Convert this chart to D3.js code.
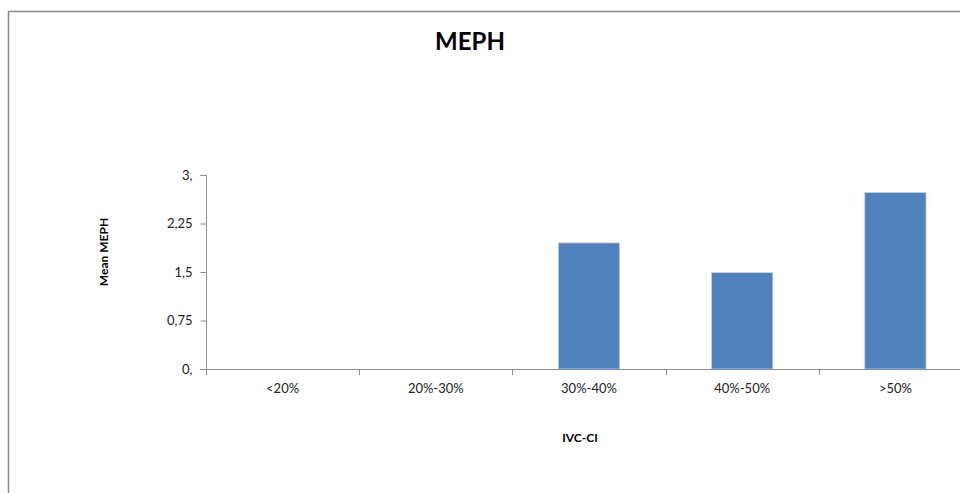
<!DOCTYPE html>
<html>
<head>
<meta charset="utf-8">
<script src="https://cdn.jsdelivr.net/npm/d3@7/dist/d3.min.js"></script>
<style>
  html, body { margin: 0; padding: 0; background: #fff; }
  svg { display: block; }
</style>
</head>
<body>
<svg id="chart" width="960" height="493"></svg>
<script>
// Mean MEPH per IVC-CI group
const categories = ["<20%", "20%-30%", "30%-40%", "40%-50%", ">50%"];
const meanMeph = [0, 0, 1.95, 1.49, 2.73];
const yTicks = [0, 0.75, 1.5, 2.25, 3];
const yTickLabels = ["0,", "0,75", "1,5", "2,25", "3,"];

const svg = d3.select("#chart");
const font = "Lato, 'Open Sans', sans-serif";

// outer chart frame (top and left edges visible)
svg.append("path")
  .attr("d", "M8.5,493 V11.5 H960")
  .attr("fill", "none")
  .attr("stroke", "#8c8c8c")
  .attr("stroke-width", 1.5);

const plot = { left: 206, right: 972, top: 175, bottom: 369 };

const x = d3.scaleBand()
  .domain(categories)
  .range([plot.left, plot.right])
  .paddingInner(0.6)
  .paddingOuter(0.3);

const y = d3.scaleLinear()
  .domain([0, 3])
  .range([plot.bottom, plot.top]);

// bars
svg.append("g")
  .selectAll("rect")
  .data(categories.map((c, i) => ({ c, v: meanMeph[i] })).filter(d => d.v > 0))
  .join("rect")
  .attr("x", d => x(d.c))
  .attr("y", d => y(d.v))
  .attr("width", x.bandwidth())
  .attr("height", d => y(0) - y(d.v))
  .attr("fill", "#4f81bd")
  .attr("stroke", "#c3d3ea")
  .attr("stroke-width", 0.8);

// y axis
const yAxis = d3.axisLeft(y)
  .tickValues(yTicks)
  .tickFormat((d, i) => yTickLabels[i])
  .tickSize(6)
  .tickPadding(8);

const gy = svg.append("g")
  .attr("transform", `translate(${plot.left + 0.5},0)`)
  .call(yAxis);
gy.select(".domain").attr("stroke", "#8c8c8c").attr("d", `M-6,${plot.top}.5H0V${plot.bottom}.5`);
gy.selectAll(".tick line").attr("stroke", "#8c8c8c");
gy.selectAll(".tick text")
  .attr("font-family", font)
  .attr("font-size", 13)
  .attr("fill", "#222");

// x axis: ticks on category boundaries
const boundaries = categories.map((c, i) => plot.left + i * x.step()).concat([plot.left + categories.length * x.step()]);
const gx = svg.append("g");
gx.append("line")
  .attr("x1", plot.left - 6).attr("x2", plot.right)
  .attr("y1", plot.bottom + 0.5).attr("y2", plot.bottom + 0.5)
  .attr("stroke", "#8c8c8c");
gx.selectAll("line.tk")
  .data(boundaries)
  .join("line")
  .attr("class", "tk")
  .attr("x1", d => Math.round(d) + 0.5).attr("x2", d => Math.round(d) + 0.5)
  .attr("y1", plot.bottom).attr("y2", plot.bottom + 6)
  .attr("stroke", "#8c8c8c");
gx.selectAll("text")
  .data(categories)
  .join("text")
  .attr("x", d => x(d) + x.bandwidth() / 2)
  .attr("y", plot.bottom + 24)
  .attr("text-anchor", "middle")
  .attr("font-family", font)
  .attr("font-size", 13)
  .attr("fill", "#222")
  .text(d => d);

// title
svg.append("text")
  .attr("x", 470).attr("y", 50)
  .attr("text-anchor", "middle")
  .attr("font-family", font)
  .attr("font-weight", "bold")
  .attr("font-size", 24)
  .attr("fill", "#000")
  .text("MEPH");

// axis titles
svg.append("text")
  .attr("x", 580).attr("y", 442)
  .attr("text-anchor", "middle")
  .attr("font-family", font)
  .attr("font-weight", "bold")
  .attr("font-size", 12)
  .attr("fill", "#000")
  .text("IVC-CI");

svg.append("text")
  .attr("transform", "translate(108,252) rotate(-90)")
  .attr("text-anchor", "middle")
  .attr("font-family", font)
  .attr("font-weight", "bold")
  .attr("font-size", 12)
  .attr("fill", "#000")
  .text("Mean MEPH");
</script>
</body>
</html>
